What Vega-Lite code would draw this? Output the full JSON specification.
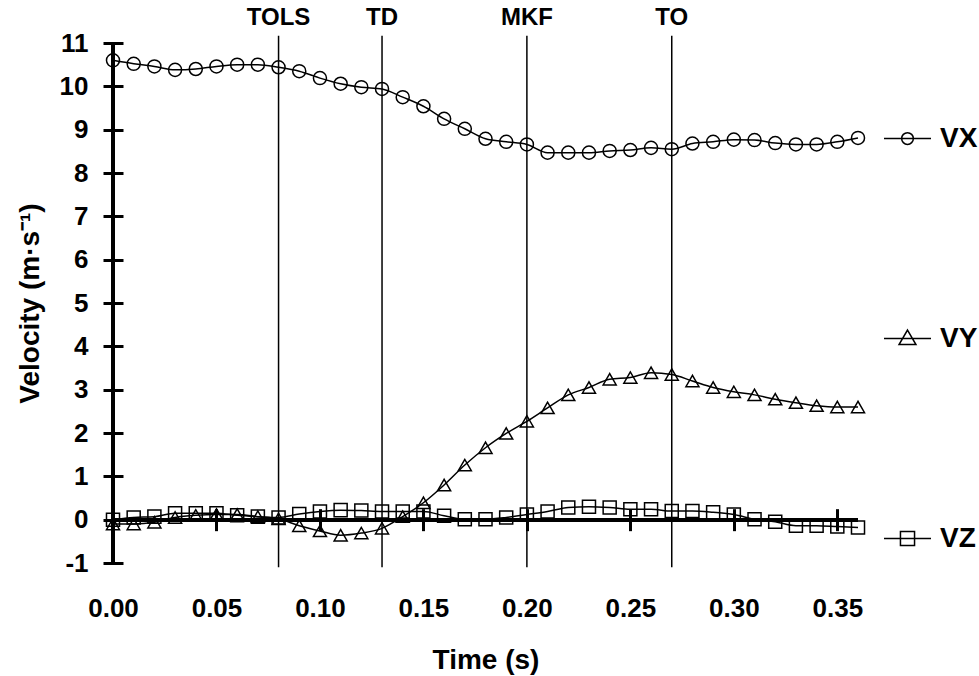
{
  "$schema": "https://vega.github.io/schema/vega-lite/v6.json",
  "width": 745,
  "height": 520,
  "autosize": "none",
  "padding": {"left": 113, "top": 43, "right": 121, "bottom": 113},
  "background": "white",
  "config": {"view": {"stroke": null}, "font": "Liberation Sans", "axis": {"grid": false}},
  "layer": [
    {
      "data": {"values": [
        {"t": 0.00, "VX": 10.60, "VY": -0.10, "VZ": 0.00},
        {"t": 0.01, "VX": 10.52, "VY": -0.10, "VZ": 0.05},
        {"t": 0.02, "VX": 10.46, "VY": -0.06, "VZ": 0.07},
        {"t": 0.03, "VX": 10.38, "VY": 0.05, "VZ": 0.15},
        {"t": 0.04, "VX": 10.40, "VY": 0.10, "VZ": 0.15},
        {"t": 0.05, "VX": 10.46, "VY": 0.12, "VZ": 0.15},
        {"t": 0.06, "VX": 10.50, "VY": 0.12, "VZ": 0.10},
        {"t": 0.07, "VX": 10.50, "VY": 0.07, "VZ": 0.07},
        {"t": 0.08, "VX": 10.44, "VY": 0.02, "VZ": 0.05},
        {"t": 0.09, "VX": 10.35, "VY": -0.14, "VZ": 0.13},
        {"t": 0.10, "VX": 10.19, "VY": -0.26, "VZ": 0.19},
        {"t": 0.11, "VX": 10.06, "VY": -0.36, "VZ": 0.22},
        {"t": 0.12, "VX": 9.98, "VY": -0.31, "VZ": 0.21},
        {"t": 0.13, "VX": 9.94, "VY": -0.20, "VZ": 0.19},
        {"t": 0.14, "VX": 9.75, "VY": 0.07, "VZ": 0.19},
        {"t": 0.15, "VX": 9.54, "VY": 0.39, "VZ": 0.19},
        {"t": 0.16, "VX": 9.25, "VY": 0.80, "VZ": 0.09},
        {"t": 0.17, "VX": 9.02, "VY": 1.26, "VZ": 0.01},
        {"t": 0.18, "VX": 8.79, "VY": 1.66, "VZ": 0.01},
        {"t": 0.19, "VX": 8.72, "VY": 1.99, "VZ": 0.05},
        {"t": 0.20, "VX": 8.66, "VY": 2.27, "VZ": 0.12},
        {"t": 0.21, "VX": 8.47, "VY": 2.58, "VZ": 0.19},
        {"t": 0.22, "VX": 8.47, "VY": 2.88, "VZ": 0.28},
        {"t": 0.23, "VX": 8.47, "VY": 3.05, "VZ": 0.30},
        {"t": 0.24, "VX": 8.51, "VY": 3.24, "VZ": 0.28},
        {"t": 0.25, "VX": 8.53, "VY": 3.28, "VZ": 0.24},
        {"t": 0.26, "VX": 8.58, "VY": 3.39, "VZ": 0.24},
        {"t": 0.27, "VX": 8.55, "VY": 3.35, "VZ": 0.20},
        {"t": 0.28, "VX": 8.68, "VY": 3.20, "VZ": 0.20},
        {"t": 0.29, "VX": 8.72, "VY": 3.05, "VZ": 0.17},
        {"t": 0.30, "VX": 8.77, "VY": 2.95, "VZ": 0.12},
        {"t": 0.31, "VX": 8.76, "VY": 2.88, "VZ": 0.01},
        {"t": 0.32, "VX": 8.69, "VY": 2.78, "VZ": -0.05},
        {"t": 0.33, "VX": 8.66, "VY": 2.70, "VZ": -0.14},
        {"t": 0.34, "VX": 8.66, "VY": 2.63, "VZ": -0.14},
        {"t": 0.35, "VX": 8.72, "VY": 2.60, "VZ": -0.16},
        {"t": 0.36, "VX": 8.81, "VY": 2.60, "VZ": -0.18}
      ]},
      "transform": [{"fold": ["VX", "VY", "VZ"], "as": ["series", "v"]}],
      "resolve": {"scale": {"shape": "independent"}},
      "layer": [
        {
          "mark": {"type": "rule", "color": "black", "strokeWidth": 3},
          "encoding": {"y": {"datum": 0, "type": "quantitative"}}
        },
        {
          "mark": {"type": "rule", "color": "black", "strokeWidth": 3},
          "encoding": {"x": {"datum": 0, "type": "quantitative"}}
        },
        {
          "mark": {"type": "line", "interpolate": "monotone", "color": "black", "strokeWidth": 1.5},
          "encoding": {
            "x": {"field": "t", "type": "quantitative",
              "scale": {"domain": [0, 0.36], "nice": false, "zero": false},
              "axis": {
                "values": [0, 0.05, 0.1, 0.15, 0.2, 0.25, 0.3, 0.35],
                "format": ".2f", "offset": -54.33, "domain": false,
                "tickWidth": 3, "tickColor": "black", "tickSize": 22,
                "labelFontSize": 26, "labelFontWeight": "bold", "labelColor": "black",
                "labelPadding": 65, "labelFlush": false, "labelOverlap": false,
                "title": "Time (s)", "titleFontSize": 28, "titleFontWeight": "bold",
                "titleColor": "black", "titlePadding": 25
              }
            },
            "y": {"field": "v", "type": "quantitative",
              "scale": {"domain": [-1, 11], "nice": false, "zero": false},
              "axis": {
                "values": [-1, 0, 1, 2, 3, 4, 5, 6, 7, 8, 9, 10, 11],
                "offset": -10, "domain": false,
                "tickWidth": 3, "tickColor": "black", "tickSize": 20,
                "labelFontSize": 26, "labelFontWeight": "bold", "labelColor": "black",
                "labelExpr": "'' + datum.value",
                "labelPadding": 15, "labelFlush": false, "labelOverlap": false,
                "title": "Velocity (m·s⁻¹)", "titleFontSize": 28, "titleFontWeight": "bold",
                "titleColor": "black", "titlePadding": 15
              }
            },
            "detail": {"field": "series"}
          }
        },
        {
          "mark": {"type": "point", "filled": false, "color": "black", "strokeWidth": 1.5, "opacity": 1, "size": 170},
          "encoding": {
            "x": {"field": "t", "type": "quantitative"},
            "y": {"field": "v", "type": "quantitative"},
            "shape": {"field": "series", "type": "nominal",
              "scale": {"domain": ["VX", "VY", "VZ"], "range": ["circle", "triangle-up", "square"]},
              "legend": null
            }
          }
        },
        {
          "mark": {"type": "point", "filled": false, "color": "black", "strokeWidth": 1.5, "opacity": 0, "size": 2209},
          "encoding": {
            "x": {"field": "t", "type": "quantitative"},
            "y": {"field": "v", "type": "quantitative"},
            "shape": {"field": "series", "type": "nominal",
              "scale": {"domain": ["VX", "VY", "VZ"], "range": [
                "M-1,0L1,0M0.25,0A0.25,0.25,0,1,1,-0.25,0A0.25,0.25,0,1,1,0.25,0Z",
                "M-1,0L1,0M0,-0.36L0.36,0.26L-0.36,0.26Z",
                "M-1,0L1,0M-0.3,-0.3L0.3,-0.3L0.3,0.3L-0.3,0.3Z"
              ]},
              "legend": {
                "orient": "none", "legendX": 770, "legendY": 71, "title": null, "padding": 0,
                "direction": "vertical",
                "symbolSize": 2209, "symbolStrokeWidth": 1.5, "symbolStrokeColor": "black",
                "symbolFillColor": "transparent", "symbolOpacity": 1,
                "labelFontSize": 28, "labelFontWeight": "bold", "labelColor": "black",
                "labelOffset": 8, "rowPadding": 161
              }
            }
          }
        }
      ]
    },
    {
      "data": {"values": [
        {"event": "TOLS", "t": 0.08},
        {"event": "TD", "t": 0.13},
        {"event": "MKF", "t": 0.20},
        {"event": "TO", "t": 0.27}
      ]},
      "layer": [
        {
          "mark": {"type": "rule", "color": "black", "strokeWidth": 1.5},
          "encoding": {
            "x": {"field": "t", "type": "quantitative"},
            "y": {"datum": -1.1, "type": "quantitative"},
            "y2": {"datum": 11.17}
          }
        },
        {
          "mark": {"type": "text", "fontSize": 24, "fontWeight": "bold", "baseline": "middle", "color": "black"},
          "encoding": {
            "x": {"field": "t", "type": "quantitative"},
            "y": {"datum": 11.58, "type": "quantitative"},
            "text": {"field": "event"}
          }
        }
      ]
    }
  ]
}
